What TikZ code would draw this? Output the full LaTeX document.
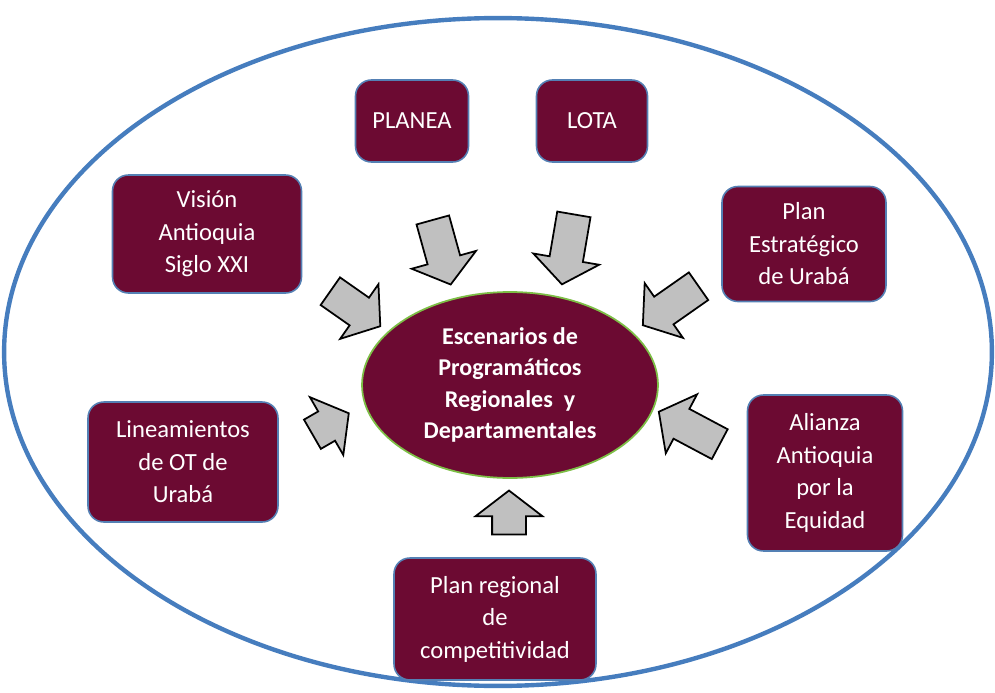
\documentclass[tikz,border=0pt]{standalone}
\usepackage{fontspec}
\setmainfont{Carlito}
\usepackage{tikz}
\usetikzlibrary{calc}
\usetikzlibrary{positioning}
\usetikzlibrary{shapes.geometric}
\usetikzlibrary{shapes.arrows}
\definecolor{vino}{RGB}{108,10,50}
\definecolor{borde}{RGB}{84,128,180}
\definecolor{anillo}{RGB}{70,125,190}
\definecolor{verde}{RGB}{125,190,70}
\definecolor{grisflecha}{RGB}{192,192,192}
\tikzstyle{boxnode} = [draw=borde, line width=0.9pt, fill=vino, rounded corners=9pt, text=white, align=center, inner sep=0pt, font=\fontsize{14}{18.5}\selectfont]
\tikzstyle{centernode} = [draw=verde, line width=1pt, fill=vino, ellipse, text=white, align=center, inner sep=0pt, font=\bfseries\fontsize{13.7}{17.8}\selectfont]
\tikzstyle{ringnode} = [draw=anillo, line width=2.5pt, ellipse, inner sep=0pt]
\tikzstyle{blockarrow} = [single arrow, draw=black, line width=1pt, fill=grisflecha, inner xsep=0pt, inner ysep=0.32cm, single arrow head extend=0.33cm, single arrow tip angle=105]

\begin{document}
\begin{tikzpicture}[x=0.02cm, y=-0.02cm]
  \useasboundingbox (0,0) rectangle (995,693);
  \node[ringnode, minimum width=19.76cm, minimum height=13.36cm] (ring) at (498,352) {};

  \node[centernode, minimum width=5.92cm, minimum height=3.72cm] (esc) at (510,385) {Escenarios de\\Programáticos\\Regionales\ \ y\\Departamentales};

  \node[boxnode, minimum width=2.26cm, minimum height=1.64cm] (planea) at (412,121) {PLANEA};
  \node[boxnode, minimum width=2.22cm, minimum height=1.64cm] (lota) at (592,121) {LOTA};
  \node[boxnode, minimum width=3.78cm, minimum height=2.36cm] (vision) at (207,234) {Visión\\Antioquia\\Siglo XXI};
  \node[boxnode, minimum width=3.28cm, minimum height=2.30cm] (plan_est) at (804,244) {Plan\\Estratégico\\de Urabá};
  \node[boxnode, minimum width=3.80cm, minimum height=2.40cm] (lineam) at (183,462) {Lineamientos\\de OT de\\Urabá};
  \node[boxnode, minimum width=3.10cm, minimum height=3.12cm] (alianza) at (825,473) {Alianza\\Antioquia\\por la\\Equidad};
  \node[boxnode, minimum width=4.04cm, minimum height=2.44cm] (plan_reg) at (495,619) {Plan regional\\de\\competitividad};

  \node[blockarrow, rotate=-74.5, minimum height=1.34cm] (a_planea) at (440,246) {};
  \node[blockarrow, rotate=-99.7, minimum height=1.42cm] (a_lota) at (569,243) {};
  \node[blockarrow, rotate=-35, minimum height=1.22cm] (a_vision) at (350,305) {};
  \node[blockarrow, rotate=-145, minimum height=1.36cm] (a_plan_est) at (676,302) {};
  \node[blockarrow, rotate=30, minimum height=0.84cm] (a_lineam) at (325,427) {};
  \node[blockarrow, rotate=152, minimum height=1.38cm] (a_alianza) at (695,431) {};
  \node[blockarrow, rotate=90, minimum height=0.88cm] (a_plan_reg) at (509,519) {};
\end{tikzpicture}
\end{document}
